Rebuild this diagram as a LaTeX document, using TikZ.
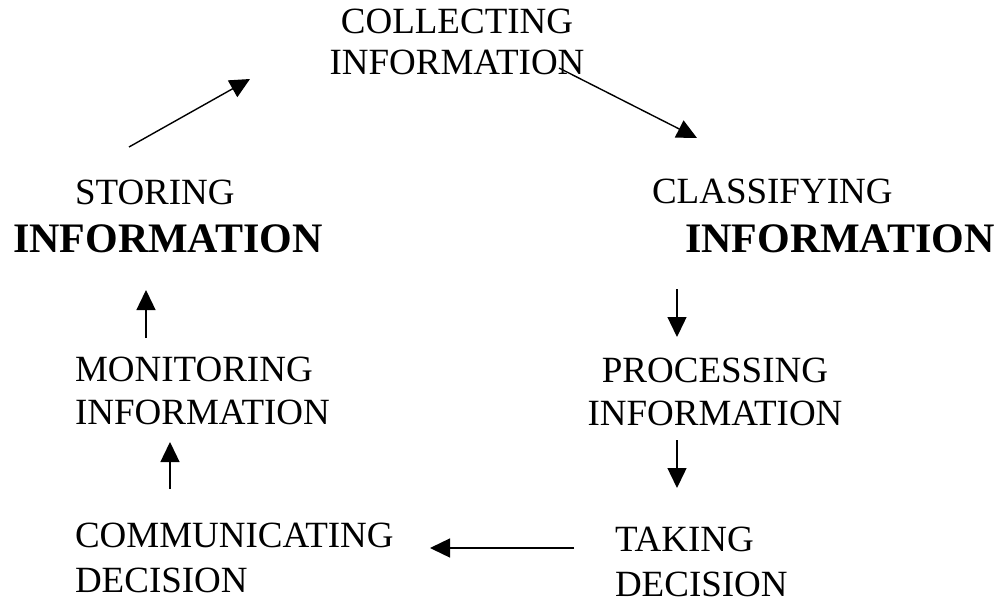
\documentclass[tikz,border=0pt]{standalone}
\usepackage{fontspec}
\setmainfont{Liberation Serif}
\usetikzlibrary{arrows.meta}
\begin{document}
\begin{tikzpicture}[x=1pt,y=-1pt,
  lbl/.style={inner sep=0pt,outer sep=0pt,font=\fontsize{37}{42}\selectfont},
  flow/.style={line width=1.4pt,-{Triangle[length=20pt,width=19pt]}}]
\useasboundingbox (0,0) rectangle (1008,605);
% labels (anchor = baseline of last line)
\node[lbl,align=center,anchor=base] (collect) at (457,74) {COLLECTING\\[-1pt]INFORMATION};
\node[lbl,align=left,anchor=base west] (storing) at (13,252) {\hspace*{62pt}STORING\\[6pt]{\fontsize{42}{42}\selectfont\bfseries INFORMATION}};
\node[lbl,align=left,anchor=base west] (classify) at (652,252) {CLASSIFYING\\[7pt]\hspace*{33pt}{\fontsize{42}{42}\selectfont\bfseries INFORMATION}};
\node[lbl,align=left,anchor=base west] (monitor) at (75,424) {MONITORING\\[1pt]INFORMATION};
\node[lbl,align=center,anchor=base] (process) at (715,425) {PROCESSING\\[1pt]INFORMATION};
\node[lbl,align=left,anchor=base west] (taking) at (615,596) {TAKING\\[3pt]DECISION};
\node[lbl,align=left,anchor=base west] (commun) at (75,592) {COMMUNICATING\\[3pt]DECISION};
% connector end points
\coordinate (s1) at (129,147); \coordinate (e1) at (250,79);
\coordinate (s2) at (559,68);  \coordinate (e2) at (697,138);
\coordinate (s3) at (677,289); \coordinate (e3) at (677,337);
\coordinate (s4) at (677,440); \coordinate (e4) at (677,488);
\coordinate (s5) at (574,548); \coordinate (e5) at (430,548);
\coordinate (s6) at (170,489); \coordinate (e6) at (170,442);
\coordinate (s7) at (146,338); \coordinate (e7) at (146,290);
\draw[flow] (s1) -- (e1);
\draw[flow] (s2) -- (e2);
\draw[flow] (s3) -- (e3);
\draw[flow] (s4) -- (e4);
\draw[flow] (s5) -- (e5);
\draw[flow] (s6) -- (e6);
\draw[flow] (s7) -- (e7);
\end{tikzpicture}
\end{document}
